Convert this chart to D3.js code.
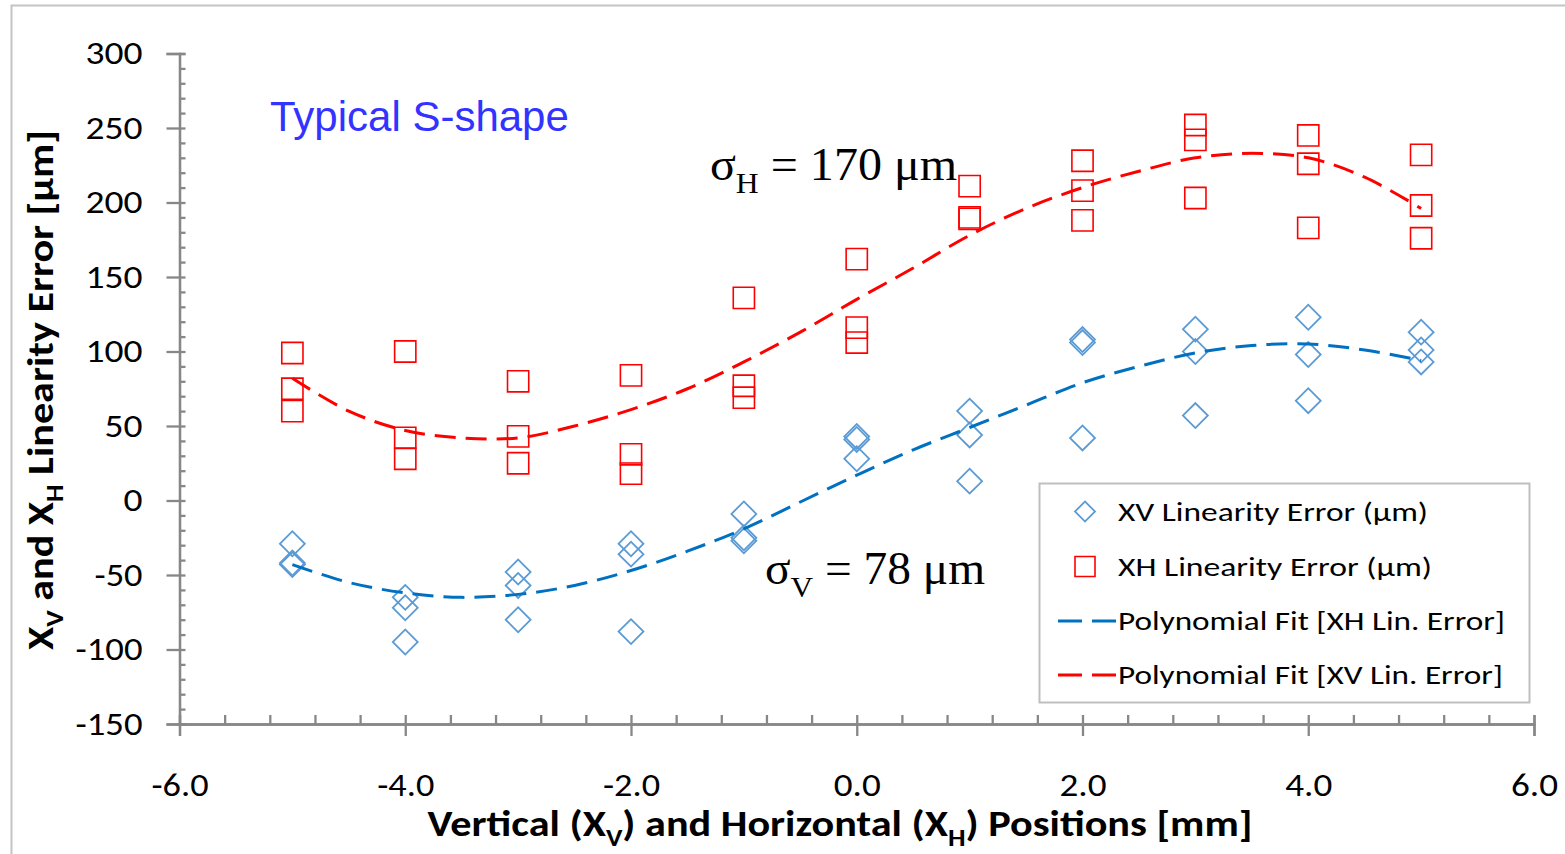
<!DOCTYPE html>
<html>
<head>
<meta charset="utf-8">
<script src="https://cdn.jsdelivr.net/npm/d3@7"></script>
<style>
    body { margin: 0; background: #fff; }
    svg { display: block; }
</style>
</head>
<body>
<script>
/**
 * Linearity error of XV / XH positions with polynomial fits
 */

// Positions [mm]
var positions = [-5, -4, -3, -2, -1, 0, 1, 2, 3, 4, 5];

// XV linearity error [um], three runs per position
var xvRun1 = [-29, -65, -48, -29, -9, 43, 60, 108, 115, 123, 113];
var xvRun2 = [-43, -72, -57, -36, -25, 41, 44, 106, 100, 98, 101];
var xvRun3 = [-42, -95, -80, -88, -27, 28, 13, 42, 57, 67, 93];

// XH linearity error [um], three runs per position
var xhRun1 = [99, 100, 80, 84, 136, 162, 211, 228, 252, 245, 232];
var xhRun2 = [75, 42, 43, 31, 77, 116, 190, 208, 242, 226, 198];
var xhRun3 = [60, 28, 25, 18, 69, 106, 189, 188, 203, 183, 176];

// Polynomial fit curves
var fitPositions = [-5, -4.5, -4, -3.5, -3, -2.5, -2, -1.5, -1, -0.5, 0,
    0.5, 1, 1.5, 2, 2.5, 3, 3.5, 4, 4.5, 5];
var fitBlue = [-43, -55, -62, -65, -63, -57, -47, -34, -19, -1, 17,
    34, 49, 64, 79, 90, 99, 104, 105, 101, 94];
var fitRed = [82, 60, 47, 42, 42, 50, 61, 75, 93, 113, 135,
    156, 178, 196, 210, 221, 230, 233, 230, 217, 196];

// Axis ticks
var xTicks = [-6, -4, -2, 0, 2, 4, 6];
var yTicks = [-150, -100, -50, 0, 50, 100, 150, 200, 250, 300];

var legendLabels = ["XV Linearity Error (\u03bcm)", "XH Linearity Error (\u03bcm)",
    "Polynomial Fit [XH Lin. Error]", "Polynomial Fit [XV Lin. Error]"];

var W = 1565, H = 854,
    axisColor = "#878787",
    blueMarker = "#5b9bd5",
    blueLine = "#0070c0",
    red = "#ff0000",
    uiFont = "Carlito, Lato, 'Open Sans', sans-serif";

var svg = d3.select("body").append("svg")
    .attr("width", W)
    .attr("height", H);

svg.append("rect").attr("width", W).attr("height", H).attr("fill", "#fff");

// chart frame
svg.append("rect")
    .attr("x", 11.5).attr("y", 5.5)
    .attr("width", W + 20).attr("height", H + 20)
    .attr("fill", "none")
    .attr("stroke", "#c4c4c4")
    .attr("stroke-width", 2);

var x = d3.scaleLinear().domain([-6, 6]).range([179.5, 1534]),
    y = d3.scaleLinear().domain([-150, 300]).range([724, 53.5]);

/**
 * Append text made of normal / subscript pieces
 */
function richText(sel, parts, size) {
    var shift = size * 0.28;
    parts.forEach(function (p, i) {
        var t = sel.append("tspan").text(p[0]);
        if (p[1]) {
            t.attr("font-size", size * 0.66).attr("dy", shift);
        } else if (i > 0 && parts[i - 1][1]) {
            t.attr("dy", -shift);
        }
    });
}

// stretch a text to the width seen in the chart
function fitWidth(sel, len) {
    sel.attr("textLength", len).attr("lengthAdjust", "spacingAndGlyphs");
}

// tick label width in the reference: ~19px a digit, 10 for minus, 9 for dot
function tickWidth(s) {
    var w = 0;
    s.split("").forEach(function (c) {
        w += c === "-" ? 10 : (c === "." ? 9 : 19);
    });
    return w;
}

// ---- axes ----
var yAxisG = svg.append("g").attr("transform", "translate(" + x(-6) + ",0)");
yAxisG.call(d3.axisLeft(y).tickValues(yTicks).tickSize(13).tickPadding(24)
    .tickFormat(function (d) { return String(d); }));
// minor ticks inside
yAxisG.append("g").call(d3.axisRight(y).tickValues(d3.range(-150, 301, 10))
    .tickSize(6).tickFormat(""));

var xAxisG = svg.append("g").attr("transform", "translate(0," + y(-150) + ")");
xAxisG.call(d3.axisBottom(x).tickValues(xTicks).tickSize(12).tickPadding(40)
    .tickFormat(function (d) { return d.toFixed(1); }));
xAxisG.append("g").call(d3.axisTop(x).tickValues(d3.range(0, 31).map(function (i) { return -6 + i * 0.4; }))
    .tickSize(9).tickFormat(""));

svg.selectAll(".domain, .tick line")
    .attr("stroke", axisColor)
    .attr("stroke-width", 2.3);
svg.selectAll(".tick text")
    .attr("fill", "#000")
    .style("font-family", uiFont)
    .style("font-size", "32px")
    .each(function () {
        var t = d3.select(this);
        if (t.text() !== "") {
            fitWidth(t, tickWidth(t.text()));
        }
    });
xAxisG.selectAll(".tick text").attr("dy", "0.62em");

// axis titles
var xTitle = svg.append("text")
    .attr("x", 840).attr("y", 836)
    .attr("text-anchor", "middle")
    .style("font-family", uiFont).style("font-weight", "bold").style("font-size", "36px");
richText(xTitle, [["Vertical (X", false], ["V", true], [") and Horizontal (X", false], ["H", true], [") Positions [mm]", false]], 36);
fitWidth(xTitle, 825);

var yTitle = svg.append("text")
    .attr("transform", "translate(53,390) rotate(-90)")
    .attr("text-anchor", "middle")
    .style("font-family", uiFont).style("font-weight", "bold").style("font-size", "36px");
richText(yTitle, [["X", false], ["V", true], [" and X", false], ["H", true], [" Linearity Error [\u03bcm]", false]], 36);
fitWidth(yTitle, 520);

// ---- data ----
function runPoints(runs) {
    var pts = [];
    runs.forEach(function (run) {
        run.forEach(function (v, i) {
            pts.push({ x: positions[i], v: v });
        });
    });
    return pts;
}

var diamond = d3.symbol().type(d3.symbolSquare).size(310),
    square = d3.symbol().type(d3.symbolSquare).size(450);

svg.append("g").selectAll("path")
    .data(runPoints([xvRun1, xvRun2, xvRun3]))
    .enter().append("path")
    .attr("d", diamond)
    .attr("transform", function (d) { return "translate(" + x(d.x) + "," + y(d.v) + ") rotate(45)"; })
    .attr("fill", "none")
    .attr("stroke", blueMarker)
    .attr("stroke-width", 1.8);

svg.append("g").selectAll("path")
    .data(runPoints([xhRun1, xhRun2, xhRun3]))
    .enter().append("path")
    .attr("d", square)
    .attr("transform", function (d) { return "translate(" + x(d.x) + "," + y(d.v) + ")"; })
    .attr("fill", "none")
    .attr("stroke", red)
    .attr("stroke-width", 1.6);

var fitLine = d3.line()
    .x(function (d) { return x(d[0]); })
    .y(function (d) { return y(d[1]); })
    .curve(d3.curveCatmullRom);

svg.append("path")
    .attr("d", fitLine(d3.zip(fitPositions, fitBlue)))
    .attr("fill", "none")
    .attr("stroke", blueLine)
    .attr("stroke-width", 3)
    .attr("stroke-dasharray", "21,10");

svg.append("path")
    .attr("d", fitLine(d3.zip(fitPositions, fitRed)))
    .attr("fill", "none")
    .attr("stroke", red)
    .attr("stroke-width", 3)
    .attr("stroke-dasharray", "21,10");

// ---- annotations ----
svg.append("text")
    .attr("x", 270).attr("y", 131)
    .attr("fill", "#3333ff")
    .style("font-family", "'Liberation Sans', Arial, sans-serif")
    .style("font-size", "42px")
    .text("Typical S-shape");

function sigmaLabel(px, py, sub, txt, len) {
    var t = svg.append("text")
        .attr("x", px).attr("y", py)
        .attr("fill", "#000")
        .style("font-family", "'Liberation Serif', 'Times New Roman', serif")
        .style("font-size", "46px");
    richText(t, [["\u03c3", false], [sub, true], [txt, false]], 46);
    fitWidth(t, len);
}
sigmaLabel(710, 180, "H", " = 170 \u03bcm", 247);
sigmaLabel(765, 584, "V", " = 78 \u03bcm", 220);

// ---- legend ----
var legend = svg.append("g");
legend.append("rect")
    .attr("x", 1039.5).attr("y", 483.5)
    .attr("width", 490).attr("height", 219)
    .attr("fill", "#fff")
    .attr("stroke", "#bfbfbf")
    .attr("stroke-width", 2);

var rowY = [511.5, 566.5, 621, 675],
    labelWidths = [310, 314, 387, 385];

legend.append("path")
    .attr("d", d3.symbol().type(d3.symbolSquare).size(200))
    .attr("transform", "translate(1085," + rowY[0] + ") rotate(45)")
    .attr("fill", "none").attr("stroke", blueMarker).attr("stroke-width", 1.8);
legend.append("path")
    .attr("d", d3.symbol().type(d3.symbolSquare).size(400))
    .attr("transform", "translate(1085," + rowY[1] + ")")
    .attr("fill", "none").attr("stroke", red).attr("stroke-width", 1.6);
[blueLine, red].forEach(function (c, i) {
    legend.append("line")
        .attr("x1", 1058).attr("x2", 1116)
        .attr("y1", rowY[i + 2]).attr("y2", rowY[i + 2])
        .attr("stroke", c).attr("stroke-width", 3)
        .attr("stroke-dasharray", "24,10");
});

legend.selectAll("text.lab")
    .data(legendLabels)
    .enter().append("text")
    .attr("class", "lab")
    .attr("x", 1118)
    .attr("y", function (d, i) { return rowY[i] + 9; })
    .attr("fill", "#000")
    .style("font-family", uiFont)
    .style("font-size", "27px")
    .attr("textLength", function (d, i) { return labelWidths[i]; })
    .attr("lengthAdjust", "spacingAndGlyphs")
    .text(function (d) { return d; });
</script>
</body>
</html>
